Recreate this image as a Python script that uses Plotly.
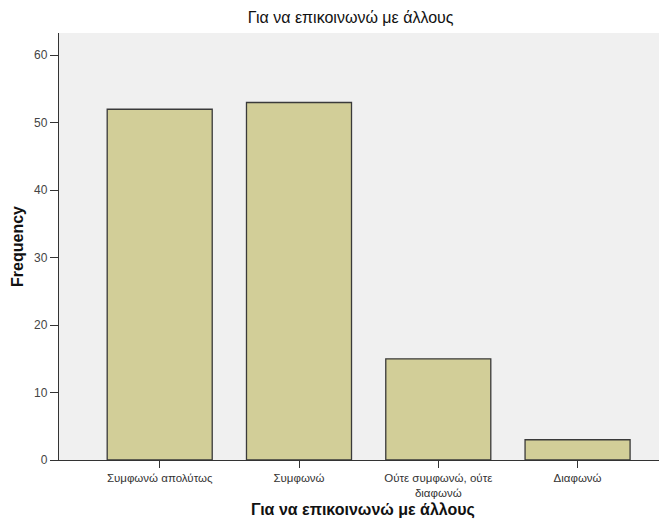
import plotly.graph_objects as go

categories = ["Συμφωνώ απολύτως", "Συμφωνώ", "Ούτε συμφωνώ, ούτε<br>διαφωνώ", "Διαφωνώ"]
frequencies = [52, 53, 15, 3]
y_ticks = [0, 10, 20, 30, 40, 50, 60]

fig = go.Figure()
fig.add_trace(go.Bar(
    x=list(range(len(categories))),
    y=frequencies,
    width=0.754,
    marker=dict(color="#d2ce98", line=dict(color="#3a3a3a", width=1.3)),
))

fig.update_layout(
    width=659, height=511,
    margin=dict(l=51, r=0, t=25, b=59, autoexpand=False),
    paper_bgcolor="white",
    plot_bgcolor="#f0f0f0",
    showlegend=False,
    font=dict(family="Liberation Sans, Arial", color="#333333"),
    title=dict(text="Για να επικοινωνώ με άλλους", x=0.52, xanchor="center",
               xref="container", yref="container", y=1 - 9/511, yanchor="middle",
               font=dict(size=16, color="#111111")),
    xaxis=dict(
        range=[-0.723, 3.642],
        tickmode="array", tickvals=list(range(len(categories))), ticktext=categories,
        ticks="outside", ticklen=7, tickcolor="#333333", tickwidth=1,
        tickfont=dict(size=11.5, color="#333333"),
        showline=True, linecolor="#333333", linewidth=1.3, mirror=False,
        showgrid=False, zeroline=False, automargin=False,
        title=dict(text="<b>Για να επικοινωνώ με άλλους</b>", font=dict(size=16, color="#111111"), standoff=11),
    ),
    yaxis=dict(
        range=[0, 63.3],
        tickmode="array", tickvals=y_ticks,
        ticks="outside", ticklen=8, tickcolor="#333333", tickwidth=1,
        tickfont=dict(size=12, color="#444444"),
        showline=True, linecolor="#333333", linewidth=1.3, mirror=True,
        showgrid=False, zeroline=False, automargin=False,
        title=dict(text="<b>Frequency</b>", font=dict(size=16, color="#111111"), standoff=6),
    ),
)

fig.write_html("out.html")
